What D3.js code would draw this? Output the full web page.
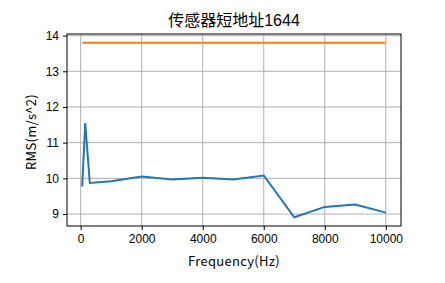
<!DOCTYPE html>
<html>
<head>
<meta charset="utf-8">
<script src="https://cdn.jsdelivr.net/npm/d3@7"></script>
<style>
  body { margin: 0; background: #fff; }
  text { font-family: "Liberation Sans", "Noto Sans CJK SC", sans-serif; }
</style>
</head>
<body>
<svg id="chart" width="445" height="283"></svg>
<script>
// data
const freqs = [50, 150, 300, 1000, 2000, 3000, 4000, 5000, 6000, 7000, 8000, 9000, 10000];
const rms = [9.77, 11.55, 9.87, 9.92, 10.05, 9.97, 10.02, 9.97, 10.08, 8.91, 9.20, 9.27, 9.04];
const limitFreqs = [50, 10000];
const limitVals = [13.8, 13.8];
const xTicks = [0, 2000, 4000, 6000, 8000, 10000];
const yTicks = [9, 10, 11, 12, 13, 14];
const title = "传感器短地址1644";

const margin = {left: 67, top: 34, right: 445 - 401, bottom: 283 - 226};
const svg = d3.select("#chart");
const w = 445 - margin.left - margin.right;
const h = 283 - margin.top - margin.bottom;

// matplotlib style 5% padding
const xMin = d3.min(freqs.concat(limitFreqs)), xMax = d3.max(freqs.concat(limitFreqs));
const yMin = d3.min(rms.concat(limitVals)), yMax = d3.max(rms.concat(limitVals));
const xPad = (xMax - xMin) * 0.05, yPad = (yMax - yMin) * 0.05;

const x = d3.scaleLinear().domain([xMin - xPad, xMax + xPad]).range([0, w]);
const y = d3.scaleLinear().domain([yMin - yPad, yMax + yPad]).range([h, 0]);

const g = svg.append("g").attr("transform", "translate(" + margin.left + "," + margin.top + ")");

// grid
g.selectAll(".vgrid").data(xTicks).enter().append("line")
  .attr("x1", d => x(d)).attr("x2", d => x(d))
  .attr("y1", 0).attr("y2", h)
  .attr("stroke", "#b0b0b0").attr("stroke-width", 1);
g.selectAll(".hgrid").data(yTicks).enter().append("line")
  .attr("y1", d => y(d)).attr("y2", d => y(d))
  .attr("x1", 0).attr("x2", w)
  .attr("stroke", "#b0b0b0").attr("stroke-width", 1);

const line = d3.line().x(d => x(d[0])).y(d => y(d[1]));

g.append("path")
  .datum(freqs.map((f, i) => [f, rms[i]]))
  .attr("d", line)
  .attr("fill", "none")
  .attr("stroke", "#1f77b4")
  .attr("stroke-width", 2);

g.append("path")
  .datum(limitFreqs.map((f, i) => [f, limitVals[i]]))
  .attr("d", line)
  .attr("fill", "none")
  .attr("stroke", "#ff7f0e")
  .attr("stroke-width", 2);

// axes
const xAxis = g.append("g").attr("transform", "translate(0," + h + ")")
  .call(d3.axisBottom(x).tickValues(xTicks).tickSize(4).tickPadding(4).tickFormat(d3.format("d")));
const yAxis = g.append("g")
  .call(d3.axisLeft(y).tickValues(yTicks).tickSize(4).tickPadding(4).tickFormat(d3.format("d")));
[xAxis, yAxis].forEach(a => {
  a.select(".domain").remove();
  a.selectAll("text").attr("font-size", 12).attr("fill", "#000")
    .style("font-family", "'Liberation Sans', Arial, sans-serif");
  a.selectAll("line").attr("stroke", "#000");
});

// frame
g.append("rect").attr("width", w).attr("height", h)
  .attr("fill", "none").attr("stroke", "#000").attr("stroke-width", 1);

svg.append("text")
  .attr("x", margin.left + w / 2).attr("y", 26)
  .attr("text-anchor", "middle").attr("font-size", 16)
  .text(title);

svg.append("text")
  .attr("x", margin.left + w / 2).attr("y", 266)
  .attr("text-anchor", "middle").attr("font-size", 13)
  .style("font-family", "'Noto Sans CJK SC', sans-serif")
  .style("letter-spacing", "0.3px")
  .text("Frequency(Hz)");

svg.append("text")
  .attr("transform", "translate(36," + (margin.top + h / 2 + 2) + ") rotate(-90)")
  .attr("text-anchor", "middle").attr("font-size", 13)
  .style("font-family", "'Noto Sans CJK SC', sans-serif")
  .style("letter-spacing", "0.3px")
  .text("RMS(m/s^2)");
</script>
</body>
</html>
